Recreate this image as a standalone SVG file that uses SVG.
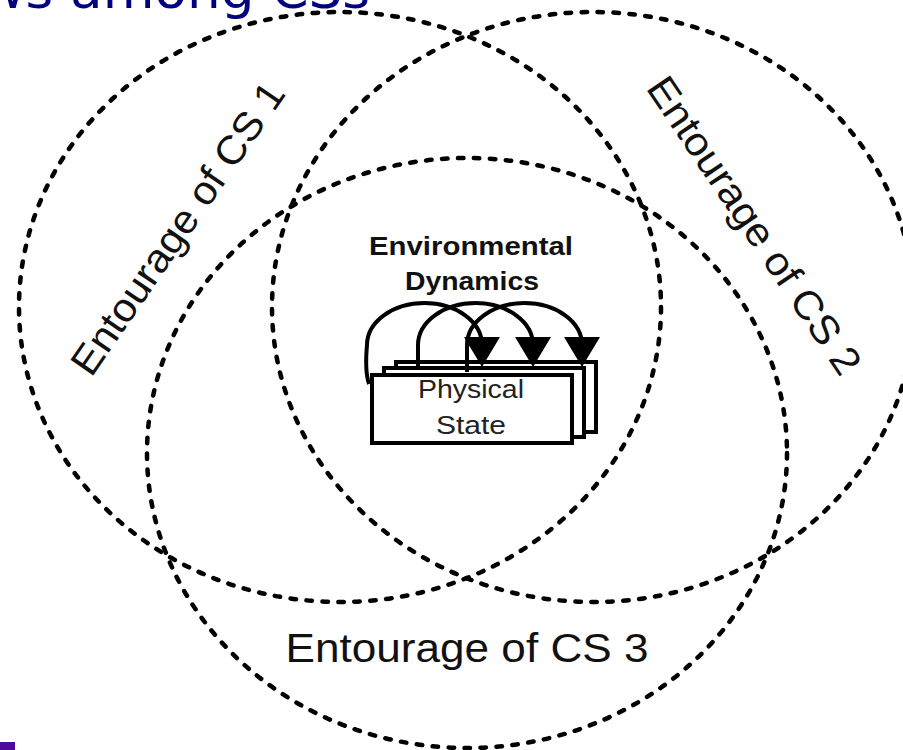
<svg xmlns="http://www.w3.org/2000/svg" width="903" height="750" viewBox="0 0 903 750">
  <style>
    .ring { fill: none; stroke: #000; stroke-width: 4.5; stroke-dasharray: 5.5 10.5; stroke-linecap: round; }
    .label { font-family: "Liberation Sans", Arial, sans-serif; font-size: 40px; fill: #111; }
    .title { font-family: "DejaVu Sans", Verdana, sans-serif; font-size: 52px; fill: #000080; }
    .head { font-family: "Liberation Sans", Arial, sans-serif; font-size: 25px; font-weight: bold; fill: #111; text-anchor: middle; }
    .state { font-family: "Liberation Sans", Arial, sans-serif; font-size: 25px; fill: #222; text-anchor: middle; }
    .page { fill: #fff; stroke: #000; stroke-width: 4; }
    .loop { fill: none; stroke: #000; stroke-width: 4; }
  </style>
  <defs>
    <polygon id="arrowhead" points="-18,0 18,0 0,30" fill="#000"/>
  </defs>

  <rect width="903" height="750" fill="#fff"/>

  <!-- page title, mostly above the top edge -->
  <text class="title" x="-18" y="8" textLength="388" lengthAdjust="spacingAndGlyphs">ws among CSs</text>

  <!-- three overlapping entourages -->
  <g id="entourage-cs1">
    <ellipse class="ring" cx="340" cy="307" rx="321" ry="295"/>
    <text class="label" transform="translate(189,236) rotate(-55.5)" text-anchor="middle" textLength="345" lengthAdjust="spacingAndGlyphs">Entourage of CS 1</text>
  </g>
  <g id="entourage-cs2">
    <ellipse class="ring" cx="593" cy="307" rx="321" ry="295"/>
    <text class="label" transform="translate(743,233) rotate(56)" text-anchor="middle" textLength="350" lengthAdjust="spacingAndGlyphs">Entourage of CS 2</text>
  </g>
  <g id="entourage-cs3">
    <ellipse class="ring" cx="467" cy="453" rx="320" ry="295"/>
    <text class="label" x="467" y="662" text-anchor="middle" textLength="363" lengthAdjust="spacingAndGlyphs">Entourage of CS 3</text>
  </g>

  <!-- stacked physical state snapshots -->
  <g id="physical-state">
    <rect class="page" x="396" y="362" width="200" height="70"/>
    <rect class="page" x="384" y="368" width="200" height="69"/>
    <rect class="page" x="372" y="375" width="200" height="68"/>
    <text class="state" x="471" y="398" textLength="106" lengthAdjust="spacingAndGlyphs">Physical</text>
    <text class="state" x="471" y="434" textLength="70" lengthAdjust="spacingAndGlyphs">State</text>
  </g>

  <!-- environmental dynamics: transitions between successive states -->
  <g id="environmental-dynamics">
    <text class="head" x="471" y="255" textLength="204" lengthAdjust="spacingAndGlyphs">Environmental</text>
    <text class="head" x="472" y="290" textLength="134" lengthAdjust="spacingAndGlyphs">Dynamics</text>
  </g>

  <g id="connectors">
    <path class="loop" d="M369,384 C365,372 366,356 367,345 A57.5,42 0 0 1 482,345 L482,352"/>
    <path class="loop" d="M418,370 L418,345 A57.5,42 0 0 1 533,345 L533,352"/>
    <path class="loop" d="M467,372 L467,345 A57.5,42 0 0 1 582,345 L582,352"/>
    <use href="#arrowhead" x="482" y="337"/>
    <use href="#arrowhead" x="533" y="337"/>
    <use href="#arrowhead" x="582" y="337"/>
  </g>

  <rect x="0" y="742" width="15" height="8" fill="#4b0b9b"/>
</svg>
